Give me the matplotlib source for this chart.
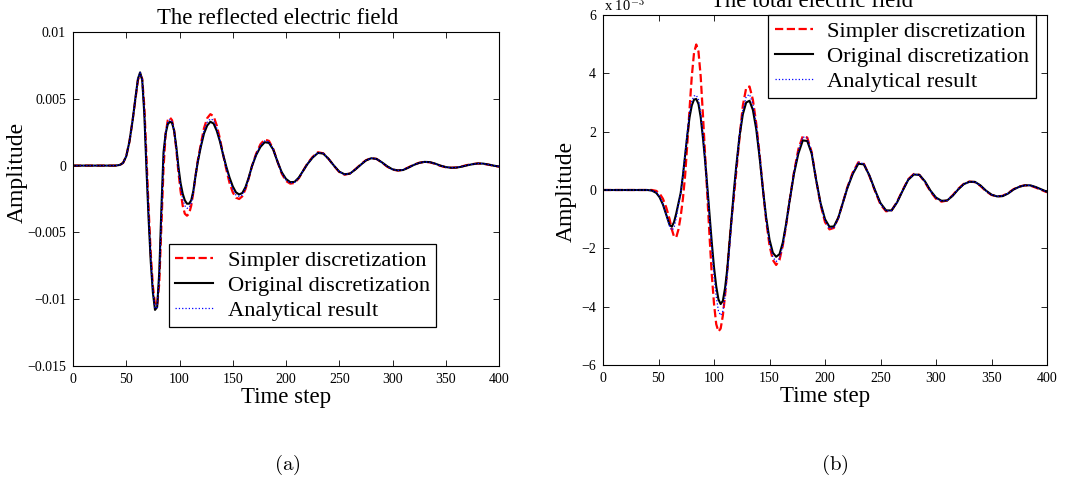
import matplotlib
matplotlib.use("Agg")
import matplotlib.pyplot as plt
import numpy as np

plt.rcParams["font.family"] = ["Liberation Serif", "DejaVu Serif"]
plt.rcParams["mathtext.fontset"] = "cm"

LABELS = ["Simpler discretization", "Original discretization", "Analytical result"]

# ---- (a) reflected field, amplitude in units of 1e-3 ----
t_refl = [0, 40, 44, 47, 50, 53, 56, 59, 61, 63,
          65, 67, 69, 71, 73, 75, 77, 79, 81, 83,
          85, 87, 89, 91, 93, 95, 97, 99, 101, 103,
          105, 107, 109, 111, 113, 115, 117, 120, 123, 126,
          129, 132, 135, 138, 141, 144, 147, 150, 153, 156,
          159, 162, 165, 168, 172, 176, 180, 184, 188, 192,
          196, 200, 204, 208, 212, 216, 220, 225, 230, 235,
          240, 245, 250, 255, 260, 265, 270, 275, 280, 285,
          290, 295, 300, 305, 310, 315, 320, 325, 330, 335,
          340, 345, 350, 355, 360, 365, 370, 375, 380, 385,
          390, 395, 400]

refl_simple = [0, 0, 0.05, 0.2, 0.7, 1.8, 3.4, 5.2, 6.4, 6.85,
               6.5, 4.4, 0.6, -3.2, -6.6, -9.0, -10.4, -10.5, -8.8, -4.5,
               -0.2, 2.4, 3.4, 3.6, 3.4, 2.6, 1.2, -0.5, -1.9, -3.0,
               -3.6, -3.75, -3.6, -3.0, -2.0, -0.8, 0.3, 1.6, 2.8, 3.55,
               3.85, 3.7, 3.0, 2.0, 0.8, -0.3, -1.3, -2.0, -2.4, -2.5,
               -2.3, -1.75, -0.95, -0.05, 0.9, 1.6, 1.95, 1.85, 1.25, 0.3,
               -0.6, -1.15, -1.35, -1.3, -0.95, -0.4, 0.15, 0.65, 1.0, 0.92,
               0.5, -0.02, -0.48, -0.68, -0.6, -0.28, 0.08, 0.4, 0.56, 0.5,
               0.23, -0.08, -0.3, -0.37, -0.32, -0.13, 0.07, 0.21, 0.28, 0.25,
               0.13, -0.02, -0.12, -0.16, -0.14, -0.06, 0.04, 0.11, 0.16, 0.14,
               0.07, -0.01, -0.08]

refl_orig = [0, 0, 0.05, 0.2, 0.7, 1.8, 3.4, 5.3, 6.5, 6.98,
             6.4, 3.8, -0.3, -4.0, -7.2, -9.5, -10.8, -10.6, -8.0, -3.2,
             1.0, 2.4, 3.1, 3.28, 3.2, 2.6, 1.4, -0.1, -1.3, -2.1,
             -2.6, -2.85, -2.85, -2.6, -1.9, -0.8, 0.2, 1.4, 2.4, 3.0,
             3.28, 3.15, 2.6, 1.8, 0.8, -0.1, -0.9, -1.55, -2.0, -2.16,
             -2.05, -1.6, -0.9, -0.05, 0.8, 1.4, 1.75, 1.7, 1.2, 0.3,
             -0.5, -1.0, -1.24, -1.22, -0.9, -0.4, 0.1, 0.6, 0.95, 0.9,
             0.5, 0.0, -0.45, -0.65, -0.6, -0.3, 0.05, 0.38, 0.55, 0.5,
             0.25, -0.05, -0.28, -0.36, -0.33, -0.15, 0.05, 0.2, 0.28, 0.26,
             0.15, 0.0, -0.11, -0.16, -0.15, -0.08, 0.02, 0.1, 0.16, 0.15,
             0.08, 0.0, -0.07]

refl_exact = [0, 0, 0.05, 0.2, 0.7, 1.8, 3.4, 5.3, 6.5, 6.95,
              6.45, 4.0, 0.0, -3.7, -7.0, -9.4, -10.7, -10.6, -8.3, -3.7,
              0.6, 2.5, 3.3, 3.45, 3.3, 2.6, 1.3, -0.3, -1.6, -2.5,
              -3.0, -3.2, -3.15, -2.8, -2.0, -0.8, 0.25, 1.5, 2.6, 3.25,
              3.5, 3.4, 2.8, 1.9, 0.8, -0.2, -1.1, -1.75, -2.2, -2.3,
              -2.2, -1.7, -0.95, -0.05, 0.85, 1.5, 1.85, 1.78, 1.22, 0.3,
              -0.55, -1.08, -1.3, -1.26, -0.92, -0.4, 0.12, 0.62, 0.97, 0.91,
              0.5, -0.01, -0.46, -0.66, -0.6, -0.29, 0.06, 0.39, 0.55, 0.5,
              0.24, -0.06, -0.29, -0.36, -0.32, -0.14, 0.06, 0.2, 0.28, 0.25,
              0.14, -0.01, -0.11, -0.16, -0.14, -0.07, 0.03, 0.1, 0.16, 0.15,
              0.07, 0.0, -0.07]

# ---- (b) total field, amplitude in units of 1e-3 ----
t_total = [0, 40, 44, 48, 51, 54, 57, 60, 62, 64,
           66, 68, 70, 72, 74, 76, 78, 80, 82,
           84, 86, 88, 90, 92, 94, 96, 98, 100, 102,
           104, 106, 108, 110, 112, 114, 116, 118, 120, 123,
           126, 129, 132, 135, 138, 141, 144, 147, 150, 153,
           156, 159, 162, 165, 168, 172, 176, 180, 184, 188,
           192, 196, 200, 204, 208, 212, 216, 220, 225, 230,
           235, 240, 245, 250, 255, 260, 265, 270, 275, 280,
           285, 290, 295, 300, 305, 310, 315, 320, 325, 330,
           335, 340, 345, 350, 355, 360, 365, 370, 375, 380,
           385, 390, 395, 400]

total_simple = [0, 0, 0.0, -0.03, -0.12, -0.3, -0.6, -1.0, -1.35, -1.6,
                -1.62, -1.35, -0.9, -0.3, 0.5, 1.6, 2.8, 3.9, 4.7,
                4.99, 4.75, 3.9, 2.6, 1.2, -0.2, -1.6, -2.9, -3.9, -4.6,
                -4.85, -4.75, -4.3, -3.6, -2.7, -1.75, -0.9, -0.2, 0.6, 1.8,
                2.9, 3.5, 3.55, 3.1, 2.3, 1.25, 0.05, -1.05, -1.9, -2.4,
                -2.57, -2.4, -1.9, -1.2, -0.4, 0.6, 1.4, 1.85, 1.8, 1.3,
                0.35, -0.5, -1.1, -1.35, -1.3, -0.95, -0.45, 0.08, 0.6, 0.95,
                0.9, 0.48, -0.03, -0.5, -0.73, -0.7, -0.4, 0.0, 0.37, 0.55,
                0.52, 0.27, -0.05, -0.3, -0.4, -0.36, -0.18, 0.04, 0.21, 0.29,
                0.27, 0.14, -0.04, -0.17, -0.22, -0.2, -0.1, 0.03, 0.12, 0.16,
                0.15, 0.08, 0.0, -0.08]

total_orig = [0, 0, -0.02, -0.1, -0.25, -0.5, -0.85, -1.2, -1.26, -1.1,
              -0.8, -0.45, -0.1, 0.5, 1.2, 1.9, 2.5, 2.9, 3.1,
              3.12, 2.95, 2.5, 1.8, 1.0, 0.1, -0.85, -1.8, -2.65, -3.3,
              -3.75, -3.91, -3.8, -3.35, -2.7, -1.8, -0.9, 0.0, 0.8, 1.85,
              2.6, 3.0, 3.06, 2.75, 2.1, 1.15, 0.05, -0.95, -1.7, -2.15,
              -2.29, -2.2, -1.8, -1.15, -0.4, 0.55, 1.25, 1.7, 1.68, 1.25,
              0.35, -0.45, -1.0, -1.26, -1.25, -0.95, -0.45, 0.05, 0.55, 0.9,
              0.88, 0.5, 0.0, -0.45, -0.7, -0.7, -0.42, -0.02, 0.35, 0.53,
              0.52, 0.3, -0.02, -0.26, -0.37, -0.36, -0.2, 0.02, 0.2, 0.28,
              0.28, 0.16, -0.02, -0.16, -0.22, -0.21, -0.12, 0.02, 0.11, 0.16,
              0.16, 0.1, 0.02, -0.06]

total_exact = [0, 0, -0.02, -0.08, -0.22, -0.48, -0.85, -1.25, -1.38, -1.3,
               -0.95, -0.5, -0.1, 0.5, 1.25, 2.0, 2.65, 3.05, 3.22,
               3.25, 3.1, 2.65, 1.9, 1.0, 0.05, -1.0, -2.0, -2.95, -3.65,
               -4.15, -4.3, -4.15, -3.65, -2.9, -2.0, -1.0, -0.1, 0.75, 1.9,
               2.75, 3.2, 3.28, 2.95, 2.25, 1.25, 0.05, -1.0, -1.8, -2.3,
               -2.45, -2.35, -1.9, -1.2, -0.4, 0.6, 1.35, 1.82, 1.78, 1.3,
               0.35, -0.48, -1.05, -1.32, -1.3, -0.97, -0.45, 0.06, 0.58, 0.95,
               0.9, 0.5, -0.01, -0.47, -0.72, -0.7, -0.41, -0.01, 0.36, 0.54,
               0.52, 0.29, -0.03, -0.28, -0.38, -0.36, -0.19, 0.03, 0.2, 0.28,
               0.28, 0.15, -0.03, -0.16, -0.22, -0.2, -0.11, 0.02, 0.11, 0.16,
               0.16, 0.09, 0.01, -0.07]

x_ticks = [0, 50, 100, 150, 200, 250, 300, 350, 400]
refl_yticks = [-0.015, -0.01, -0.005, 0, 0.005, 0.01]
refl_yticklabels = ["\u22120.015", "\u22120.01", "\u22120.005", "0", "0.005", "0.01"]
total_yticks = [-6, -4, -2, 0, 2, 4, 6]
total_yticklabels = ["\u22126", "\u22124", "\u22122", "0", "2", "4", "6"]


def _panel(ax, t, series, scale, title, title_x, ylabel_xy):
    styles = [
        dict(color="red", linestyle="--", linewidth=1.6),
        dict(color="black", linestyle="-", linewidth=1.5),
        dict(color="blue", linestyle=":", linewidth=0.9),
    ]
    for y, label, st in zip(series, LABELS, styles):
        ax.plot(t, np.asarray(y) * scale, label=label, **st)
    ax.set_xlim(0, 400)
    ax.set_xticks(x_ticks)
    ax.set_xlabel("Time step", fontsize=16.5, labelpad=1)
    ax.set_ylabel("Amplitude", fontsize=17)
    ax.yaxis.set_label_coords(*ylabel_xy)
    ax.set_title(title, fontsize=16.4, pad=5.5, x=title_x)
    ax.tick_params(direction="in", top=True, right=True, length=4,
                   width=0.6, labelsize=10, pad=5)
    for sp in ax.spines.values():
        sp.set_linewidth(0.8)


def _legend(ax, loc, anchor):
    leg = ax.legend(loc=loc, bbox_to_anchor=anchor, fontsize=16.2,
                    frameon=True, fancybox=False, framealpha=1,
                    edgecolor="black", borderaxespad=0, handlelength=1.7,
                    handletextpad=0.65, labelspacing=0.18, borderpad=0.28)
    leg.get_frame().set_linewidth(0.9)


fig = plt.figure(figsize=(10.72, 4.87), dpi=100)
ax1 = fig.add_axes([73 / 1072, 121 / 487, 426 / 1072, 334 / 487])
ax2 = fig.add_axes([603 / 1072, 122 / 487, 444 / 1072, 350 / 487])

_panel(ax1, t_refl, [refl_simple, refl_orig, refl_exact], 1e-3,
       "The reflected electric field", 0.48, (-0.1056, 0.58))
ax1.set_ylim(-0.015, 0.01)
ax1.set_yticks(refl_yticks)
ax1.set_yticklabels(refl_yticklabels)
_legend(ax1, "upper left", (0.225, 0.365))

_panel(ax2, t_total, [total_simple, total_orig, total_exact], 1.0,
       "The total electric field", 0.471, (-0.0586, 0.497))
ax2.set_ylim(-6, 6)
ax2.set_yticks(total_yticks)
ax2.set_yticklabels(total_yticklabels)
ax2.annotate(r"x 10$^{-3}$", xy=(0.0, 1.0), xycoords="axes fraction",
             xytext=(1, 3), textcoords="offset points", ha="left",
             va="baseline", fontsize=10.5)
_legend(ax2, "upper right", (0.975, 1.0))

fig.text(287 / 1072, 1 - 465 / 487, r"$\mathrm{(a)}$", ha="center", va="center", fontsize=15)
fig.text(835 / 1072, 1 - 465 / 487, r"$\mathrm{(b)}$", ha="center", va="center", fontsize=15)

fig.savefig("out.png", dpi=100)
plt.close(fig)
